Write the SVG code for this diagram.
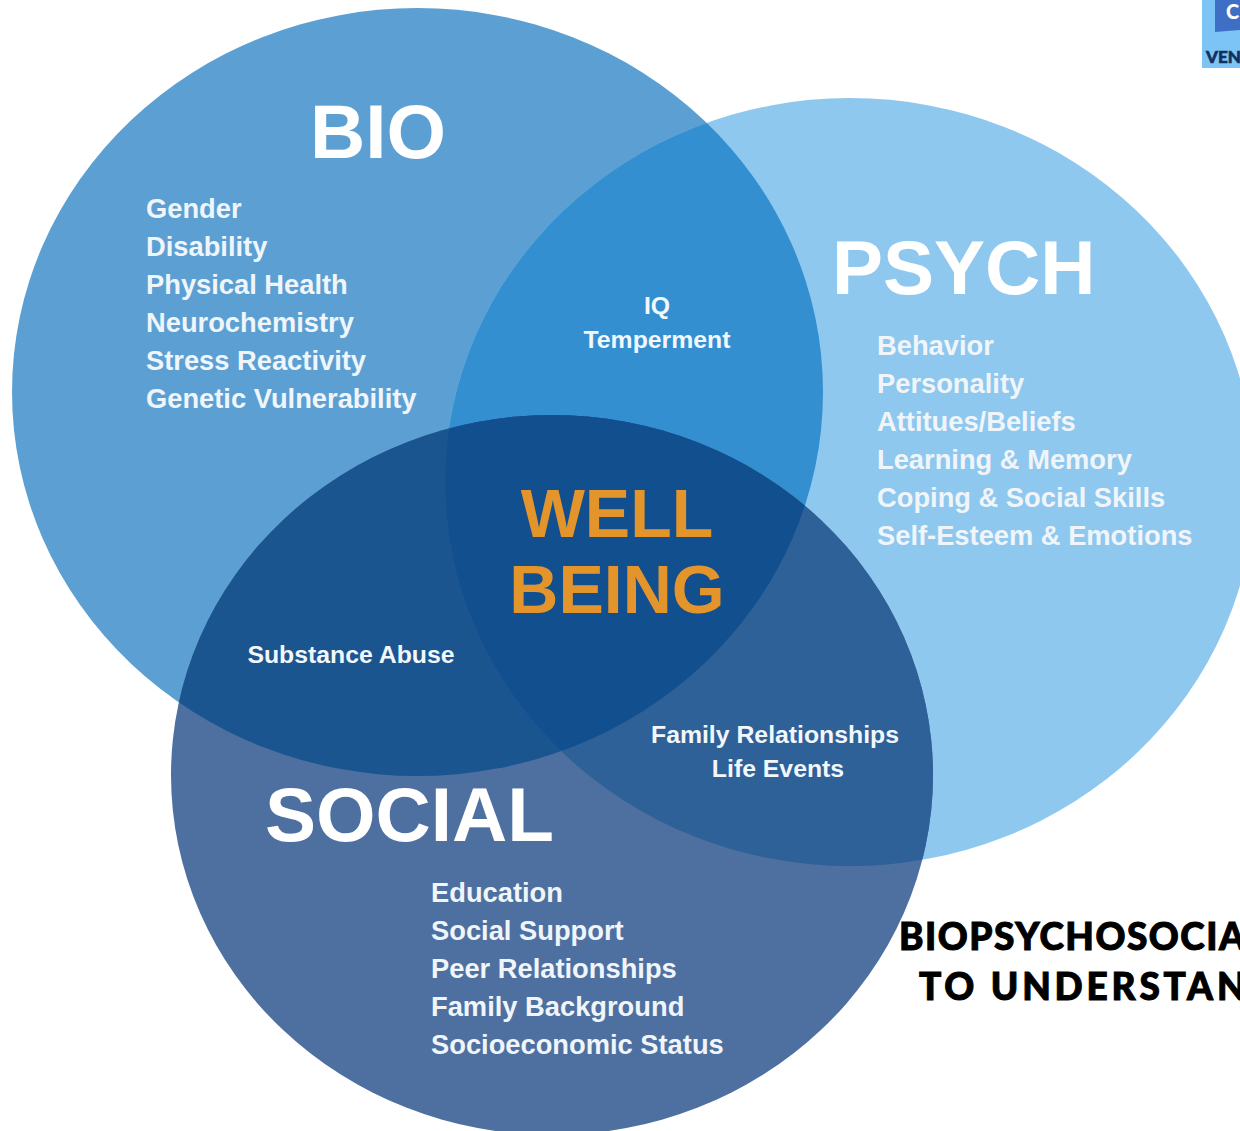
<svg xmlns="http://www.w3.org/2000/svg" width="1240" height="1131" viewBox="0 0 1240 1131">
<style>
.l{font-family:"Liberation Sans",Arial,sans-serif;font-weight:700;fill:#f0f5fa;font-size:27.300px}
.m{font-family:"Liberation Sans",Arial,sans-serif;font-weight:700;fill:#f2f7fb;font-size:24.800px}
.h{font-family:"Liberation Sans",Arial,sans-serif;font-weight:700;fill:#fff;font-size:76.500px}
.w{font-family:"Liberation Sans",Arial,sans-serif;font-weight:700;fill:#e3952c;font-size:68px;text-anchor:middle}
.t{font-family:"Lato","Liberation Sans",sans-serif;font-weight:900;fill:#000;stroke:#000;stroke-width:1px;font-size:37px;letter-spacing:1.500px}
.logo{font-family:"Lato","Liberation Sans",sans-serif;font-weight:900}
</style>
<defs>
<ellipse id="b" cx="417.500" cy="392" rx="405.500" ry="384"/>
<ellipse id="p" cx="850" cy="482" rx="405" ry="384"/>
<ellipse id="s" cx="552" cy="775" rx="381" ry="360"/>
<clipPath id="cb"><use href="#b"/></clipPath>
<clipPath id="cp"><use href="#p"/></clipPath>
</defs>
<rect width="1240" height="1131" fill="#fff"/>
<g id="logo">
<rect x="1202" y="0" width="38" height="68" fill="#7cc4f5"/>
<polygon points="1215,0 1240,0 1240,30 1215,32" fill="#3f6fc4"/>
<text class="logo" x="1226" y="19" font-size="20" fill="#fff">C</text>
<text class="logo" x="1206" y="63" font-size="17" fill="#12305e" stroke="#12305e" stroke-width="0.600">VEN</text>
</g>
<g id="bio-circle">
<use href="#b" fill="#5ca0d3"/>
</g>
<g id="psych-circle">
<use href="#p" fill="#8fc8ee"/>
<g clip-path="url(#cb)"><use href="#p" fill="#338fd0"/></g>
</g>
<g id="social-circle">
<use href="#s" fill="#4e70a0"/>
<g clip-path="url(#cb)"><use href="#s" fill="#1b5590"/></g>
<g clip-path="url(#cp)"><use href="#s" fill="#2d6198"/></g>
<g clip-path="url(#cb)"><g clip-path="url(#cp)"><use href="#s" fill="#124f8e"/></g></g>
</g>
<g id="bio">
<text class="h" x="310" y="158">BIO</text>
<text class="l" x="146" y="218">Gender</text>
<text class="l" x="146" y="256">Disability</text>
<text class="l" x="146" y="294">Physical Health</text>
<text class="l" x="146" y="332">Neurochemistry</text>
<text class="l" x="146" y="370">Stress Reactivity</text>
<text class="l" x="146" y="408">Genetic Vulnerability</text>
</g>
<g id="psych">
<text class="h" x="832" y="294">PSYCH</text>
<text class="l" x="877" y="355">Behavior</text>
<text class="l" x="877" y="393">Personality</text>
<text class="l" x="877" y="431">Attitues/Beliefs</text>
<text class="l" x="877" y="469">Learning &amp; Memory</text>
<text class="l" x="877" y="507">Coping &amp; Social Skills</text>
<text class="l" x="877" y="545">Self-Esteem &amp; Emotions</text>
</g>
<g id="social">
<text class="h" x="265" y="841">SOCIAL</text>
<text class="l" x="431" y="902">Education</text>
<text class="l" x="431" y="940">Social Support</text>
<text class="l" x="431" y="978">Peer Relationships</text>
<text class="l" x="431" y="1016">Family Background</text>
<text class="l" x="431" y="1054">Socioeconomic Status</text>
</g>
<g id="overlaps">
<text class="m" x="657" y="314" text-anchor="middle">IQ</text>
<text class="m" x="657" y="348" text-anchor="middle">Temperment</text>
<text class="m" x="351" y="663" text-anchor="middle">Substance Abuse</text>
<text class="m" x="775" y="743" text-anchor="middle">Family Relationships</text>
<text class="m" x="778" y="777" text-anchor="middle">Life Events</text>
</g>
<g id="wellbeing">
<text class="w" x="617" y="537">WELL</text>
<text class="w" x="617" y="613">BEING</text>
</g>
<g id="title">
<text class="t" x="899" y="950">BIOPSYCHOSOCIAL</text>
<text class="t" x="919" y="1000" style="letter-spacing:3.800px">TO UNDERSTAND</text>
</g>
<g id="connectors"/>
</svg>
